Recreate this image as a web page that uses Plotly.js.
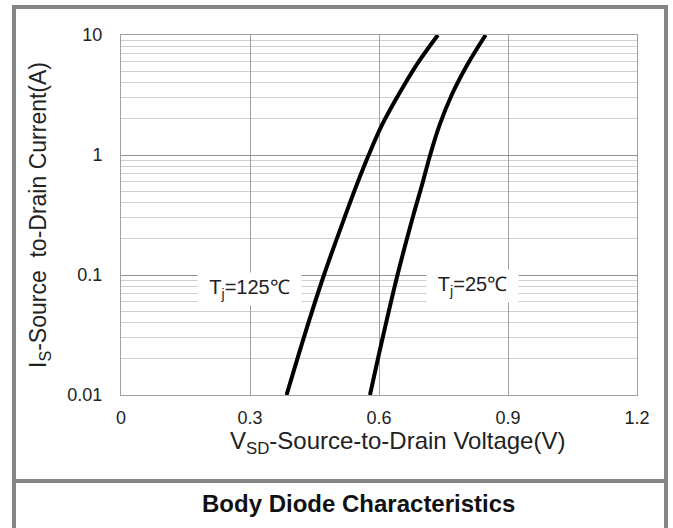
<!DOCTYPE html>
<html>
<head>
<meta charset="utf-8">
<script src="https://cdn.plot.ly/plotly-3.0.1.min.js"></script>
<style>
html,body{margin:0;padding:0;background:#fff;}
#chart{width:673px;height:528px;}
</style>
</head>
<body>
<div id="chart"></div>
<script>
// Tj = 125°C curve
const vsd125 = [0.385, 0.427, 0.472, 0.522, 0.548, 0.576, 0.607, 0.645, 0.687, 0.737];
const is125  = [0.01, 0.0316, 0.1, 0.316, 0.562, 1.0, 1.78, 3.16, 5.62, 10];
// Tj = 25°C curve
const vsd25 = [0.579, 0.610, 0.643, 0.680, 0.700, 0.719, 0.741, 0.769, 0.805, 0.848];
const is25  = [0.01, 0.0316, 0.1, 0.316, 0.562, 1.0, 1.78, 3.16, 5.62, 10];

const xTickVals = [0, 0.3, 0.6, 0.9, 1.2];
const xTickText = ['0', '0.3', '0.6', '0.9', '1.2'];
const yTickVals = [0.01, 0.1, 1, 10];
const yTickText = ['0.01', '0.1', '1', '10'];
const yMinorVals = [0.02,0.03,0.04,0.05,0.06,0.07,0.08,0.09,0.2,0.3,0.4,0.5,0.6,0.7,0.8,0.9,2,3,4,5,6,7,8,9];

const curveLabels = ['T<sub>j</sub>=125℃', 'T<sub>j</sub>=25℃'];
const labelX = [0.299, 0.817];
const labelY = [0.0764, 0.081];

const chartTitle = 'Body Diode Characteristics';
const xTitle = 'V<sub>SD</sub>-Source-to-Drain Voltage(V)';
const yTitle = 'I<sub>S</sub>-Source\u00a0 to-Drain Current(A)';

const font = 'Liberation Sans, Arial, sans-serif';

const traces = [
  {x: vsd125, y: is125, mode: 'lines', line: {color: '#000', width: 4, shape: 'spline', smoothing: 1}, name: 'Tj=125', hoverinfo: 'x+y'},
  {x: vsd25, y: is25, mode: 'lines', line: {color: '#000', width: 4, shape: 'spline', smoothing: 1}, name: 'Tj=25', hoverinfo: 'x+y'}
];

// paper coordinate helpers for frame / free text
const L = 121, R = 36, T = 35, B = 133, W = 673, H = 528;
const pw = W - L - R, ph = H - T - B;
const px = v => (v - L) / pw;
const py = v => (H - B - v) / ph;

const annotations = curveLabels.map((t, i) => ({
  x: labelX[i], y: Math.log10(labelY[i]), xref: 'x', yref: 'y', text: t, showarrow: false,
  font: {family: font, size: 20, color: '#222'}, bgcolor: '#fff', borderpad: 0,
  width: i === 0 ? 103 : 91, height: 32
}));
annotations.push({
  x: px(397), y: py(442), xref: 'paper', yref: 'paper', text: xTitle, showarrow: false,
  font: {family: font, size: 24, color: '#222'}, xanchor: 'center', yanchor: 'middle'
});
annotations.push({
  x: px(358), y: py(503), xref: 'paper', yref: 'paper', text: '<b>' + chartTitle + '</b>', showarrow: false,
  font: {family: font, size: 24, color: '#111'}, xanchor: 'center', yanchor: 'middle'
});

const layout = {
  width: W, height: H,
  margin: {l: L, r: R, t: T, b: B},
  paper_bgcolor: '#fff', plot_bgcolor: '#fff',
  showlegend: false,
  xaxis: {
    range: [0, 1.2], tickvals: xTickVals, ticktext: xTickText, ticks: '',
    showgrid: true, gridcolor: '#a0a0a0', gridwidth: 1,
    showline: true, linecolor: '#a0a0a0', linewidth: 1, mirror: true, zeroline: false,
    tickfont: {family: font, size: 18, color: '#222'},
    ticklabelstandoff: 6
  },
  yaxis: {
    type: 'log', range: [-2, 1], tickvals: yTickVals, ticktext: yTickText, ticks: '',
    showgrid: true, gridcolor: '#909090', gridwidth: 1,
    minor: {tickvals: yMinorVals, showgrid: true, gridcolor: '#cfcfcf', gridwidth: 1, ticks: ''},
    showline: true, linecolor: '#a0a0a0', linewidth: 1, mirror: true, zeroline: false,
    tickfont: {family: font, size: 18, color: '#222'},
    ticklabelstandoff: 14,
    title: {text: yTitle, font: {family: font, size: 23, color: '#222'}, standoff: 14}
  },
  annotations: annotations,
  shapes: [
    {type: 'rect', xref: 'paper', yref: 'paper', x0: px(14), x1: px(666), y0: py(540), y1: py(7), line: {color: '#858585', width: 4}, layer: 'below'},
    {type: 'line', xref: 'paper', yref: 'paper', x0: px(14), x1: px(666), y0: py(481), y1: py(481), line: {color: '#858585', width: 4}}
  ]
};

Plotly.newPlot('chart', traces, layout, {displayModeBar: false, staticPlot: true});
</script>
</body>
</html>
